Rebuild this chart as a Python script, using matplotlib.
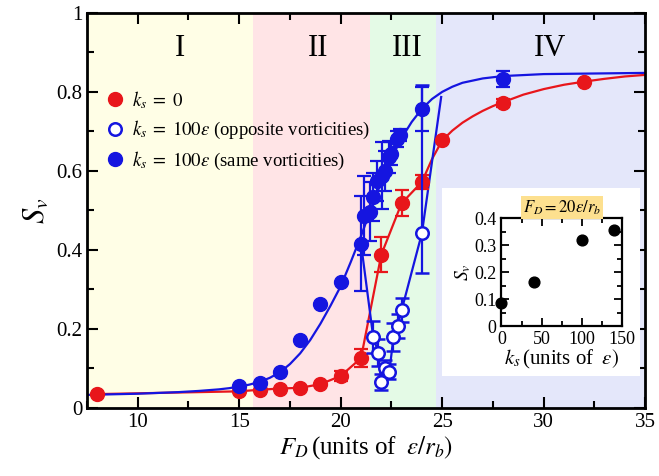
import numpy as np
import matplotlib
matplotlib.use("Agg")
import matplotlib.pyplot as plt
from matplotlib.patches import Rectangle
from matplotlib.lines import Line2D
from matplotlib.ticker import MultipleLocator

plt.rcParams['font.family'] = ['Liberation Serif', 'DejaVu Serif']
plt.rcParams['mathtext.fontset'] = 'stix'

# k_s = 0 (red)
red_x = [8, 15, 16, 17, 18, 19, 20, 21, 22, 23, 24, 25, 28, 32]
red_y = [0.035, 0.042, 0.046, 0.049, 0.051, 0.06, 0.081, 0.126, 0.388, 0.518, 0.572, 0.677, 0.772, 0.826]
red_err = [0, 0, 0, 0, 0, 0, 0.012, 0.022, 0.045, 0.033, 0.017, 0, 0.01, 0]

# red fitted curve
red_fit_x = [24, 24.5, 25, 25.5, 26, 26.5, 27, 27.5, 28, 29, 30, 31, 32, 33, 34, 35]
red_fit_y = [0.572, 0.63, 0.677, 0.702, 0.722, 0.738, 0.752, 0.764, 0.774, 0.793, 0.807, 0.818, 0.826, 0.833, 0.839, 0.843]

# k_s = 100 eps, same vorticities (filled blue)
same_x = [15, 16, 17, 18, 19, 20, 21, 21.15, 21.45, 21.6, 21.8, 22.05, 22.2, 22.4, 22.5, 22.75, 22.9, 24, 28]
same_y = [0.056, 0.062, 0.092, 0.172, 0.262, 0.32, 0.416, 0.487, 0.497, 0.534, 0.575, 0.588, 0.60, 0.635, 0.644, 0.68, 0.69, 0.757, 0.833]
same_err = [0, 0, 0, 0, 0, 0, 0.12, 0.1, 0.075, 0.06, 0.05, 0.085, 0.05, 0.04, 0.03, 0.02, 0.015, 0.055, 0.02]

# blue fitted curve
blue_fit_x = [7.5, 10, 12, 13, 14, 14.5, 15, 15.5, 16, 16.5, 17, 17.5, 18, 18.5, 19, 19.5, 20, 20.5, 21, 21.5,
              22, 22.5, 23, 23.5, 24, 24.5, 25, 25.5, 26, 27, 28, 30, 35]
blue_fit_y = [0.033, 0.036, 0.040, 0.043, 0.047, 0.050, 0.054, 0.059, 0.066, 0.076, 0.09, 0.111, 0.138, 0.172, 0.213, 0.259,
              0.308, 0.37, 0.435, 0.505, 0.572, 0.632, 0.683, 0.724, 0.757, 0.782, 0.80, 0.813, 0.823, 0.834, 0.84, 0.845, 0.848]

# k_s = 100 eps, opposite vorticities (open blue)
opp_x = [21.0, 21.6, 21.85, 22.0, 22.2, 22.4, 22.6, 22.8, 23.0, 24.0, 24.95]
opp_y = [0.416, 0.18, 0.14, 0.066, 0.102, 0.092, 0.18, 0.207, 0.247, 0.442, 0.787]
opp_err_lo = [0, 0.04, 0.035, 0.02, 0.02, 0.02, 0.035, 0.03, 0.03, 0.1, 0]
opp_err_hi = [0, 0.04, 0.035, 0.02, 0.02, 0.02, 0.035, 0.03, 0.03, 0.375, 0]

# inset: F_D = 20 eps/r_b
ins_x = [0, 40, 100, 140]
ins_y = [0.085, 0.162, 0.32, 0.355]

regions = [(7.5, 15.7, '#fffee6'), (15.7, 21.45, '#ffe4e6'), (21.45, 24.7, '#e4fae6'), (24.7, 35, '#e4e7fa')]
region_labels = ['I', 'II', 'III', 'IV']
region_label_x = [12.1, 18.9, 23.3, 30.3]

red = '#e8161b'
blue = '#1515e0'

fig = plt.figure(figsize=(6.59, 4.76), dpi=100)
ax = fig.add_axes([0.132, 0.143, 0.847, 0.830])

for (a, b, c), lab, lx in zip(regions, region_labels, region_label_x):
    ax.axvspan(a, b, color=c, zorder=0, lw=0)
    ax.text(lx, 0.91, lab, fontsize=22, ha='center', va='center')

# curves
ax.plot(red_x[:11], red_y[:11], color=red, lw=1.6, zorder=2)
ax.plot(red_fit_x, red_fit_y, color=red, lw=1.6, zorder=2)
ax.plot(blue_fit_x, blue_fit_y, color=blue, lw=1.6, zorder=2)
ax.plot(opp_x, opp_y, color=blue, lw=1.6, zorder=2)

# points
ax.errorbar(red_x, red_y, yerr=red_err, fmt='o', color=red, ms=10, capsize=5, elinewidth=1.6, capthick=1.6, zorder=3)
ax.errorbar(opp_x[1:10], opp_y[1:10], yerr=[opp_err_lo[1:10], opp_err_hi[1:10]], fmt='o', color=blue, mfc='white', mew=1.8, ms=9, capsize=5, elinewidth=1.6, capthick=1.6, zorder=4)
ax.errorbar(same_x, same_y, yerr=same_err, fmt='o', color=blue, ms=10, capsize=5, elinewidth=1.6, capthick=1.6, zorder=5)

handles = [
    Line2D([], [], ls='none', marker='o', color=red, ms=10),
    Line2D([], [], ls='none', marker='o', color=blue, mfc='white', mew=1.8, ms=9),
    Line2D([], [], ls='none', marker='o', color=blue, ms=10),
]
labels = [r'$k_s\;=\;0$', r'$k_s\;=\;100\varepsilon$ (opposite vorticities)', r'$k_s\;=\;100\varepsilon$ (same vorticities)']

ax.set_xlim(7.5, 35)
ax.set_ylim(0, 1)
ax.xaxis.set_major_locator(MultipleLocator(5))
ax.xaxis.set_minor_locator(MultipleLocator(2.5))
ax.yaxis.set_minor_locator(MultipleLocator(0.1))
ax.set_yticks([0, 0.2, 0.4, 0.6, 0.8, 1])
ax.set_yticklabels(['0', '0.2', '0.4', '0.6', '0.8', '1'])
ax.tick_params(which='both', direction='in', top=True, right=True, labelsize=15, width=1.5)
ax.tick_params(which='major', length=8)
ax.tick_params(which='minor', length=5)
for s in ax.spines.values():
    s.set_linewidth(2)
ax.set_xlabel(r'$F_D\,$(units of $\;\varepsilon/r_b)$', fontsize=18, labelpad=2)
ax.set_ylabel(r'$S_v$', fontsize=22, labelpad=4)

leg = ax.legend(handles, labels, loc='upper left', bbox_to_anchor=(0.0, 0.85), frameon=False, fontsize=13.5,
                handletextpad=0.3, labelspacing=0.45, handlelength=1.2)

# white box behind inset
ax.add_patch(Rectangle((0.636, 0.081), 0.355, 0.476, transform=ax.transAxes, facecolor='white', edgecolor='none', zorder=6))

ins = fig.add_axes([0.761, 0.315, 0.183, 0.227])
ins.scatter(ins_x, ins_y, s=60, color='black', zorder=3, clip_on=False)
ins.set_xlim(0, 150)
ins.set_ylim(0, 0.4)
ins.xaxis.set_major_locator(MultipleLocator(50))
ins.xaxis.set_minor_locator(MultipleLocator(25))
ins.yaxis.set_minor_locator(MultipleLocator(0.05))
ins.set_yticks([0, 0.1, 0.2, 0.3, 0.4])
ins.set_yticklabels(['0', '0.1', '0.2', '0.3', '0.4'])
ins.tick_params(which='both', direction='in', top=True, right=True, labelsize=13, width=1.3)
ins.tick_params(which='major', length=6)
ins.tick_params(which='minor', length=3.5)
for s in ins.spines.values():
    s.set_linewidth(1.6)
ins.set_xlabel(r'$k_s\,$(units of $\;\varepsilon)$', fontsize=15, labelpad=0)
ins.set_ylabel(r'$S_v$', fontsize=14, labelpad=1)
ins.set_title(r'$F_D=20\varepsilon/r_b$', fontsize=12, pad=4, bbox=dict(facecolor='#fde08f', edgecolor='none', pad=1.5))

fig.savefig('out.png', dpi=100)
